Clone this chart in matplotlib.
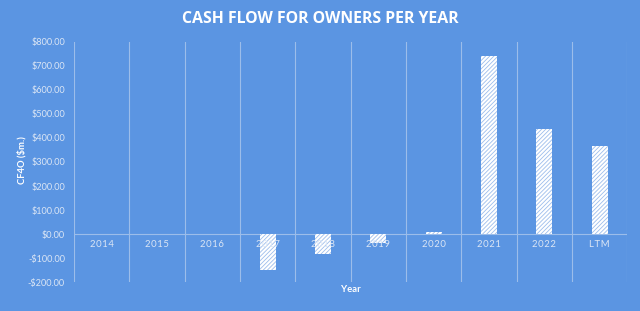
import matplotlib
matplotlib.use("Agg")
import matplotlib.pyplot as plt
import numpy as np

categories = ["2014", "2015", "2016", "2017", "2018", "2019", "2020", "2021", "2022", "LTM"]
values = [0, 0, 0, -150, -85, -37, 10, 743, 437, 367]
yticks = list(range(-200, 801, 100))

bg = "#5b95e2"
txt = "#dbe6f5"
plt.rcParams['hatch.color'] = '#9dbdec'
plt.rcParams['hatch.linewidth'] = 0.6

fig = plt.figure(figsize=(6.4, 3.11), dpi=100, facecolor=bg)
ax = fig.add_axes([0.1156, 0.0932, 0.8644, 0.7718])
ax.set_facecolor(bg)

x = np.arange(len(categories))
ax.bar(x, values, width=0.29, color="white", edgecolor="#9dbdec", linewidth=0, hatch="////////", zorder=3)

ax.set_xlim(-0.5, len(categories) - 0.5)
ax.set_ylim(-200, 800)
ax.set_yticks(yticks)
ax.set_yticklabels([("-$%.2f" % abs(v)) if v < 0 else ("$%.2f" % v) for v in yticks],
                   color=txt, fontsize=6.6, family="Lato")
ax.tick_params(axis='y', length=0, pad=6.5)
ax.set_xticks([])

for b in np.arange(-0.5, len(categories), 1.0):
    ax.axvline(b, color="#9cbdea", linewidth=0.8, zorder=1)
ax.axhline(0, color="#9cbdea", linewidth=0.8, zorder=2)

for i, c in enumerate(categories):
    ax.annotate("\u200a".join(c), (i, 0), xytext=(0, -4), textcoords="offset points",
                ha="center", va="top", color=txt, fontsize=6.8, family="Lato")

for s in ax.spines.values():
    s.set_visible(False)

fig.text(22 / 640, 1 - 160 / 311, "CF4O ($m.)", rotation=90, ha="center", va="center",
         color="white", fontsize=6.8, fontweight="bold", family="Lato")
ax.set_xlabel("Year", color="white", fontsize=6.8, fontweight="bold", labelpad=2, family="Lato")
fig.text(0.5, 1 - 19 / 311, "CASH FLOW FOR OWNERS PER YEAR", ha="center", va="center",
         color="white", fontsize=11.4, fontweight="bold", family="Open Sans")

fig.savefig("out.png", dpi=100, facecolor=bg)
